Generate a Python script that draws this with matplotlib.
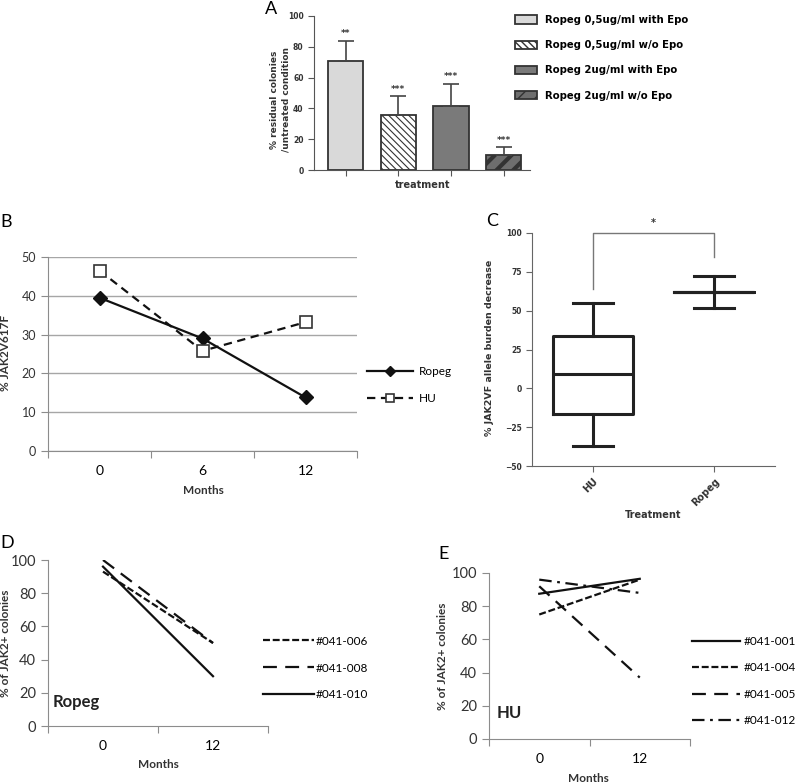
import matplotlib
matplotlib.use('Agg')
import matplotlib.pyplot as plt
import numpy as np

plt.rcParams['lines.scale_dashes'] = False

# panel A - residual colonies
a_labels = ['Ropeg 0,5ug/ml with Epo', 'Ropeg 0,5ug/ml w/o Epo',
            'Ropeg 2ug/ml with Epo', 'Ropeg 2ug/ml w/o Epo']
a_values = [71, 35.5, 41.5, 10]
a_errors = [13, 12.5, 14.5, 5]
a_stars = ['**', '***', '***', '***']

# panel B - JAK2V617F over time
b_months = ['0', '6', '12']
b_ropeg = [39.5, 29, 13.8]
b_hu = [46.5, 25.8, 33.2]

# panel C - allele burden decrease
c_groups = ['HU', 'Ropeg']
c_hu_box = dict(whislo=-37, q1=-16.5, med=9.5, q3=34, whishi=55)
c_ropeg_box = dict(whislo=52, q1=62, med=62, q3=62, whishi=72)
c_bracket = [64, 100, 84.5]

# panel D - Ropeg patients
d_months = ['0', '12']
d_names = ['#041-006', '#041-008', '#041-010']
d_values = [[93, 50], [100, 50], [96, 30]]

# panel E - HU patients
e_months = ['0', '12']
e_names = ['#041-001', '#041-004', '#041-005', '#041-012']
e_values = [[87.5, 96.5], [75, 96], [92, 37], [96, 88]]

W, H = 795, 782
fig = plt.figure(figsize=(W / 100, H / 100), dpi=100)


def box(x0, y0, x1, y1):
    return [x0 / W, 1 - y1 / H, (x1 - x0) / W, (y1 - y0) / H]


def ftext(x, y, s, **kw):
    return fig.text(x / W, 1 - y / H, s, **kw)


prism = 'DejaVu Sans'
excel = 'Lato'
dark = '#222222'
grey = '#8c8c8c'

# ---------------- A ----------------
ax = fig.add_axes(box(314, 16, 530, 170))
fills = ['#d9d9d9', '#ffffff', '#7a7a7a', '#6e6e6e']
hatches = [None, '\\\\\\\\\\', None, '//']
bars = []
for i, v in enumerate(a_values):
    b = ax.bar(i, v, width=0.67, color=fills[i], edgecolor='#333333',
               linewidth=1.3, hatch=hatches[i])[0]
    if hasattr(b, 'set_hatch_linewidth'):
        b.set_hatch_linewidth(3.0 if i == 3 else 0.8)
    bars.append(b)
    ax.errorbar(i, v, yerr=[[0], [a_errors[i]]], color='#444444', lw=1.2,
                capsize=6, capthick=1.2)
    ax.text(i, v + a_errors[i] + 1.5, a_stars[i], ha='center', va='bottom',
            fontsize=6.5, fontweight='bold', family=prism, color='#333333')
ax.set_xlim(-0.6, 3.5)
ax.set_ylim(0, 100)
ax.set_yticks(range(0, 101, 20))
ax.set_xticks(range(4))
ax.set_xticklabels([])
for s in ['top', 'right']:
    ax.spines[s].set_visible(False)
for s in ['left', 'bottom']:
    ax.spines[s].set_color('#555555')
ax.tick_params(axis='both', colors='#555555', labelcolor='#333333',
               labelsize=5.5, length=4, width=0.8)
for t in ax.get_yticklabels():
    t.set_fontweight('bold')
ax.legend(bars, a_labels, loc='upper left',
          bbox_to_anchor=(515 / W, 1 - 15 / H),
          bbox_transform=fig.transFigure, frameon=False,
          prop={'family': prism, 'weight': 'bold', 'size': 7.3},
          handlelength=2.2, handleheight=0.85, labelspacing=1.5,
          handletextpad=0.75, borderpad=0, borderaxespad=0)
ftext(265, 9, 'A', fontsize=13, va='center', ha='left', family=excel)
ftext(280, 100, '% residual colonies\n/untreated condition', rotation=90,
      ha='center', va='center', fontsize=6.5, fontweight='bold', family=prism,
      color='#333333', linespacing=1.3)
ftext(423, 185, 'treatment', ha='center', va='center', fontsize=7,
      fontweight='bold', family=prism, color='#333333')

# ---------------- B ----------------
ax = fig.add_axes(box(48, 257, 357, 451))
xb = np.arange(len(b_months))
ax.plot(xb, b_ropeg, color='#111111', lw=1.6, marker='D', ms=7,
        label='Ropeg')
ax.plot(xb, b_hu, color='#111111', lw=1.6, ls=(0, (6, 4)), marker='s', ms=9,
        mfc='white', mec='#333333', mew=1.2, label='HU')
ax.set_xlim(-0.5, 2.5)
ax.set_ylim(0, 50)
ax.set_yticks(range(0, 51, 10))
ax.yaxis.grid(True, color='#a6a6a6', lw=1)
ax.set_axisbelow(True)
ax.set_xticks(np.arange(-0.5, 2.6, 1))
ax.set_xticklabels([])
ax.set_xticks(xb, minor=True)
ax.set_xticklabels(b_months, minor=True)
ax.tick_params(axis='x', which='minor', length=0, pad=10)
ax.tick_params(axis='both', which='major', colors=grey, length=5)
ax.tick_params(labelcolor='#333333', labelsize=9)
for t in ax.get_xticklabels(minor=True) + ax.get_yticklabels():
    t.set_family(excel)
for s in ['top', 'right']:
    ax.spines[s].set_visible(False)
for s in ['left', 'bottom']:
    ax.spines[s].set_color(grey)
ax.legend(loc='center left', bbox_to_anchor=(367 / W, 1 - 385 / H),
          bbox_transform=fig.transFigure, frameon=False,
          prop={'family': excel, 'size': 8.5}, handlelength=3.9,
          markerscale=0.7, handletextpad=0.5, labelspacing=1.4,
          borderpad=0, borderaxespad=0)
ftext(0, 222, 'B', fontsize=13, va='center', ha='left', family=excel)
ftext(203, 490, 'Months', ha='center', va='center', fontsize=8.5,
      fontweight='bold', family=excel, color='#333333')
ftext(6, 353, '% JAK2V617F', rotation=90, ha='center', va='center',
      fontsize=8.5, fontweight='bold', family=excel, color='#333333')

# ---------------- C ----------------
ax = fig.add_axes(box(532, 233, 775, 466))
props = dict(color=dark, lw=2.2)
ax.bxp([c_hu_box, c_ropeg_box], positions=[0, 1], widths=0.66,
       capwidths=0.33, showfliers=False, boxprops=props, whiskerprops=props,
       capprops=props, medianprops=props)
ax.plot([0, 0, 1, 1], [c_bracket[0], c_bracket[1], c_bracket[1], c_bracket[2]],
        color='#777777', lw=1, clip_on=False)
ax.text(0.5, c_bracket[1] + 3, '*', ha='center', va='bottom', fontsize=7,
        fontweight='bold', color='#333333', family=prism)
ax.set_xlim(-0.5, 1.5)
ax.set_ylim(-50, 100)
ax.set_yticks(range(-50, 101, 25))
ax.set_xticks([0, 1])
ax.set_xticklabels(c_groups, rotation=45, ha='right', rotation_mode='anchor')
for s in ['top', 'right']:
    ax.spines[s].set_visible(False)
for s in ['left', 'bottom']:
    ax.spines[s].set_color('#666666')
ax.tick_params(axis='both', colors='#666666', labelcolor='#333333',
               labelsize=5.5, length=4, width=0.8)
ax.tick_params(axis='x', labelsize=7)
for t in ax.get_yticklabels() + ax.get_xticklabels():
    t.set_fontweight('bold')
    t.set_family(prism)
ftext(486, 221, 'C', fontsize=13, va='center', ha='left', family=excel)
ftext(490, 348, '% JAK2VF allele burden decrease', rotation=90, ha='center',
      va='center', fontsize=6.8, fontweight='bold', family=prism,
      color='#333333')
ftext(653, 515, 'Treatment', ha='center', va='center', fontsize=7,
      fontweight='bold', family=prism, color='#333333')


def excel_lines(ax, months, names, values, styles):
    x = np.arange(len(months))
    for name, v, st in zip(names, values, styles):
        ax.plot(x, v, color='#111111', lw=1.6, ls=st, label=name)
    ax.set_xlim(-0.5, len(months) - 0.5)
    ax.set_ylim(0, 100)
    ax.set_yticks(range(0, 101, 20))
    ax.set_xticks(np.arange(-0.5, len(months), 1))
    ax.set_xticklabels([])
    ax.set_xticks(x, minor=True)
    ax.set_xticklabels(months, minor=True)
    ax.tick_params(axis='x', which='minor', length=0, pad=10)
    ax.tick_params(axis='both', which='major', colors=grey, length=5)
    ax.tick_params(labelcolor='#333333', labelsize=10.5)
    for t in ax.get_xticklabels(minor=True) + ax.get_yticklabels():
        t.set_family(excel)
    for s in ['top', 'right']:
        ax.spines[s].set_visible(False)
    for s in ['left', 'bottom']:
        ax.spines[s].set_color(grey)


# ---------------- D ----------------
ax = fig.add_axes(box(48, 560, 268, 726))
excel_lines(ax, d_months, d_names, d_values,
            [(0, (5, 2)), (0, (10, 6)), '-'])
ax.legend(loc='center left', bbox_to_anchor=(263 / W, 1 - 668 / H),
          bbox_transform=fig.transFigure, frameon=False,
          prop={'family': excel, 'size': 8.5}, handlelength=4.3,
          handletextpad=0.2, labelspacing=1.35, borderpad=0, borderaxespad=0)
ftext(0, 543, 'D', fontsize=13, va='center', ha='left', family=excel)
ftext(53, 702, 'Ropeg', fontsize=12, fontweight='bold', va='center',
      ha='left', family=excel, color='#222222')
ftext(158, 765, 'Months', ha='center', va='center', fontsize=8.5,
      fontweight='bold', family=excel, color='#333333')
ftext(6, 643, '% of JAK2+ colonies', rotation=90, ha='center', va='center',
      fontsize=8.5, fontweight='bold', family=excel, color='#333333')

# ---------------- E ----------------
ax = fig.add_axes(box(489, 573, 690, 739))
excel_lines(ax, e_months, e_names, e_values,
            ['-', (0, (5, 2)), (0, (10, 6)), (0, (9, 4, 2, 4))])
ax.legend(loc='center left', bbox_to_anchor=(692 / W, 1 - 681 / H),
          bbox_transform=fig.transFigure, frameon=False,
          prop={'family': excel, 'size': 8.5}, handlelength=4.1,
          handletextpad=0.3, labelspacing=1.3, borderpad=0, borderaxespad=0)
ftext(438, 554, 'E', fontsize=13, va='center', ha='left', family=excel)
ftext(497, 713, 'HU', fontsize=12, fontweight='bold', va='center',
      ha='left', family=excel, color='#222222')
ftext(588, 778, 'Months', ha='center', va='center', fontsize=8.5,
      fontweight='bold', family=excel, color='#333333')
ftext(443, 656, '% of JAK2+ colonies', rotation=90, ha='center', va='center',
      fontsize=8.5, fontweight='bold', family=excel, color='#333333')

fig.savefig('out.png', dpi=100)
